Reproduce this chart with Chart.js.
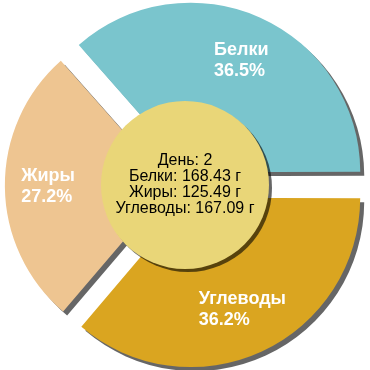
<!DOCTYPE html>
<html>
<head>
<meta charset="utf-8">
<script src="https://cdn.jsdelivr.net/npm/chart.js@4"></script>
<style>
html,body{margin:0;padding:0;background:#fff;}
#wrap{width:370px;height:370px;}
</style>
</head>
<body>
<div id="wrap"><canvas id="c" width="370" height="370"></canvas></div>
<script>
const dayLabel = 'День: 2';
const categories = ['Белки', 'Жиры', 'Углеводы'];
const grams = [168.43, 125.49, 167.09];
const colors = ['#7AC5CD', '#EEC591', '#DAA520'];
const drawOrder = [2, 1, 0]; // clockwise from 3 o'clock
const centerColor = '#E9D678';

const total = grams.reduce((a, b) => a + b, 0);
const pct = grams.map(v => (v / total * 100).toFixed(1) + '%');

const shadowPlugin = {
  id: 'shadow',
  beforeDatasetsDraw(chart) {
    const ctx = chart.ctx;
    ctx.save();
    ctx.shadowColor = 'rgba(0,0,0,0.6)';
    ctx.shadowOffsetX = 4;
    ctx.shadowOffsetY = 4;
    ctx.shadowBlur = 0;
  },
  afterDatasetsDraw(chart) {
    const ctx = chart.ctx;
    ctx.restore();
    const meta = chart.getDatasetMeta(0);
    const arc0 = meta.data[0];
    const cx = arc0.x, cy = arc0.y;
    // slice labels
    ctx.save();
    ctx.fillStyle = '#ffffff';
    ctx.font = 'bold 18px "Liberation Sans", Arial, sans-serif';
    ctx.textBaseline = 'middle';
    ctx.textAlign = 'left';
    meta.data.forEach((arc, i) => {
      const k = drawOrder[i];
      const mid = (arc.startAngle + arc.endAngle) / 2;
      const r = 137;
      const ax = cx + Math.cos(mid) * r;
      const ay = cy + Math.sin(mid) * r;
      const lines = [categories[k], pct[k]];
      const w = Math.max(...lines.map(t => ctx.measureText(t).width));
      ctx.fillText(lines[0], ax - w / 2, ay - 10);
      ctx.fillText(lines[1], ax - w / 2, ay + 11);
    });
    ctx.restore();
    // center circle
    ctx.save();
    ctx.shadowColor = 'rgba(0,0,0,0.6)';
    ctx.shadowOffsetX = 3;
    ctx.shadowOffsetY = 3;
    ctx.shadowBlur = 0;
    ctx.beginPath();
    ctx.arc(cx, cy, 84, 0, Math.PI * 2);
    ctx.fillStyle = centerColor;
    ctx.fill();
    ctx.restore();
    ctx.save();
    ctx.fillStyle = '#000000';
    ctx.font = '16px "Liberation Sans", Arial, sans-serif';
    ctx.textAlign = 'center';
    ctx.textBaseline = 'middle';
    const centerLines = [dayLabel].concat(categories.map((c, i) => c + ': ' + grams[i].toFixed(2) + ' г'));
    const lh = 16;
    centerLines.forEach((t, i) => {
      ctx.fillText(t, cx, cy + (i - (centerLines.length - 1) / 2) * lh);
    });
    ctx.restore();
  }
};

new Chart(document.getElementById('c'), {
  type: 'pie',
  data: {
    labels: drawOrder.map(k => categories[k]),
    datasets: [{
      data: drawOrder.map(k => grams[k]),
      backgroundColor: drawOrder.map(k => colors[k]),
      borderWidth: 0,
      offset: 56,
      hoverOffset: 56
    }]
  },
  options: {
    responsive: false,
    animation: false,
    rotation: 90,
    radius: 166,
    layout: { padding: 0 },
    plugins: { legend: { display: false }, tooltip: { enabled: false } },
    events: []
  },
  plugins: [shadowPlugin]
});
</script>
</body>
</html>
